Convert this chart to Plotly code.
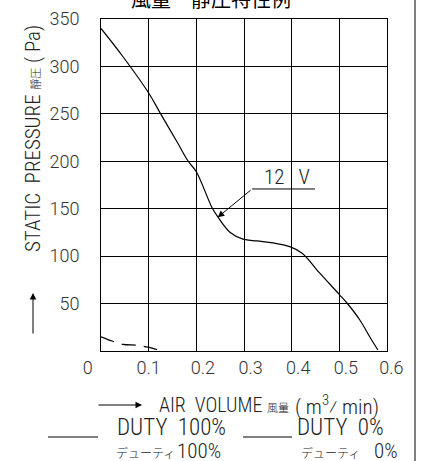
import plotly.graph_objects as go

# Data
flow_12v = [0.0, 0.045, 0.100, 0.124, 0.160, 0.183, 0.200, 0.233, 0.243, 0.271, 0.298,
            0.327, 0.361, 0.396, 0.422, 0.459, 0.501, 0.516, 0.543, 0.564, 0.581]
pres_12v = [340, 311, 272, 251, 220, 200, 189, 151, 143, 125, 118,
            116, 114, 110, 103, 82, 59, 50.6, 32.7, 14.8, 1]
flow_0 = [0.0, 0.023, 0.046, 0.075, 0.099, 0.12]
pres_0 = [15, 10.6, 7, 6, 4, 1]

x_ticks = [0, 0.1, 0.2, 0.3, 0.4, 0.5, 0.6]
x_labels = ["0", "0.1", "0.2", "0.3", "0.4", "0.5", "0.6"]
y_ticks = [50, 100, 150, 200, 250, 300, 350]
y_labels = ["50", "100", "150", "200", "250", "300", "350"]

COND = "Roboto Condensed, DejaVu Sans Condensed, sans-serif"
TICKF = "Roboto, sans-serif"
CJK = "Noto Sans CJK JP, sans-serif"
INK = "#222"
NB = "\u00a0"

# plot area in pixels: x 101..387, y 19..351
L, R, T, B = 101, 387, 19, 351
W, H = R - L, B - T


def px(xp):
    return (xp - L) / W


def py(yp):
    return (B - yp) / H


# tick labels of the reference sit slightly off their grid lines
x_pad = {"0": ("", NB * 6), "0.1": ("", ""), "0.6": (NB * 2, "")}
x_text = [x_pad.get(t, (NB * 3, ""))[0] + t + x_pad.get(t, (NB * 3, ""))[1] for t in x_labels]

fig = go.Figure()
fig.add_trace(go.Scatter(x=flow_12v, y=pres_12v, mode="lines",
                         line=dict(color="black", width=1.2, shape="spline", smoothing=1.0),
                         showlegend=False, hoverinfo="skip"))
fig.add_trace(go.Scatter(x=flow_0, y=pres_0, mode="lines",
                         line=dict(color="black", width=1.2, dash="14px,8px", shape="spline"),
                         showlegend=False, hoverinfo="skip"))

axis_common = dict(showgrid=True, gridcolor="black", gridwidth=1, showline=True, linecolor="black", linewidth=1,
                   mirror=True, zeroline=False, ticks="", automargin=False,
                   tickfont=dict(family=TICKF, size=18, color="#333", weight=300))
fig.update_xaxes(range=[0, 0.6], tickvals=x_ticks, ticktext=x_text, ticklabelstandoff=0, **axis_common)
fig.update_yaxes(range=[0, 350], tickvals=y_ticks, ticktext=y_labels, ticklabelstandoff=17, **axis_common)

SPAN = "<span style='font-family:Noto Sans CJK JP;font-size:{}px'>{}</span>"

ann = []


def text(xp, yp, s, size, anchor="left", family=COND, angle=0):
    ann.append(dict(xref="paper", yref="paper", x=px(xp), y=py(yp), text=s, showarrow=False, xanchor=anchor,
                    yanchor="middle", textangle=angle, font=dict(family=family, size=size, color=INK, weight=300)))


def arrow(tip_x, tip_y, dx, dy):
    ann.append(dict(xref="paper", yref="paper", x=px(tip_x), y=py(tip_y), ax=dx, ay=dy, text="",
                    showarrow=True, arrowhead=2, arrowsize=1.3, arrowwidth=1, arrowcolor="black"))


# chart title (cut off at the top edge)
ann.append(dict(xref="paper", yref="paper", x=px(211), y=py(-2), text="風量－静圧特性例",
                showarrow=False, xanchor="center", yanchor="middle", font=dict(family=CJK, size=20, color="black")))
# 12V label with leader
text(262, 177, "12" + NB * 3 + "V", 21)
ann.append(dict(xref="x", yref="y", x=0.245, y=141, ax=0.317, ay=170.8, axref="x", ayref="y", text="",
                showarrow=True, arrowhead=2, arrowsize=1.3, arrowwidth=1, arrowcolor="black"))
# y axis title
text(33, 139, "STATIC  PRESSURE " + SPAN.format(11, "靜圧") + " ( Pa)", 21, anchor="center", angle=-90)
arrow(33, 293, 0, 42)
# x axis title
arrow(142, 405, -45, 0)
text(157, 405, "AIR  VOLUME " + SPAN.format(11, "風量"), 20)
text(337, 405, "(" + NB + "m<sup>3</sup>⁄" + NB + "min)", 21, anchor="center")
# legend texts
text(115, 427, "DUTY  100%", 23)
text(295, 427, "DUTY  0%", 23)
text(114, 452, SPAN.format(12, "デューティ"), 12)
text(175, 451, "100%", 21)
text(299, 452, SPAN.format(12, "デューティ"), 12)
text(372, 451, "0%", 21)


def hline(x0, x1, y, xref="paper", yref="paper"):
    return dict(type="line", xref=xref, yref=yref, x0=x0, x1=x1, y0=y, y1=y, line=dict(color="black", width=1))


shapes = [
    hline(0.317, 0.449, 170.8, xref="x", yref="y"),   # 12V leader underline
    hline(px(48), px(98), py(437)),                   # legend sample DUTY 100%
    hline(px(243), px(292), py(437)),                 # legend sample DUTY 0%
    dict(type="line", xref="paper", yref="paper", x0=px(415), x1=px(415), y0=py(461), y1=py(0),
         line=dict(color="black", width=1)),          # frame line at right
]

fig.update_layout(width=426, height=461, margin=dict(l=L, r=426 - R, t=T, b=461 - B), plot_bgcolor="white",
                  paper_bgcolor="white", annotations=ann, shapes=shapes, showlegend=False)
fig.write_html("out.html", config={"displayModeBar": False},
               post_script="document.body.style.margin='0';")
